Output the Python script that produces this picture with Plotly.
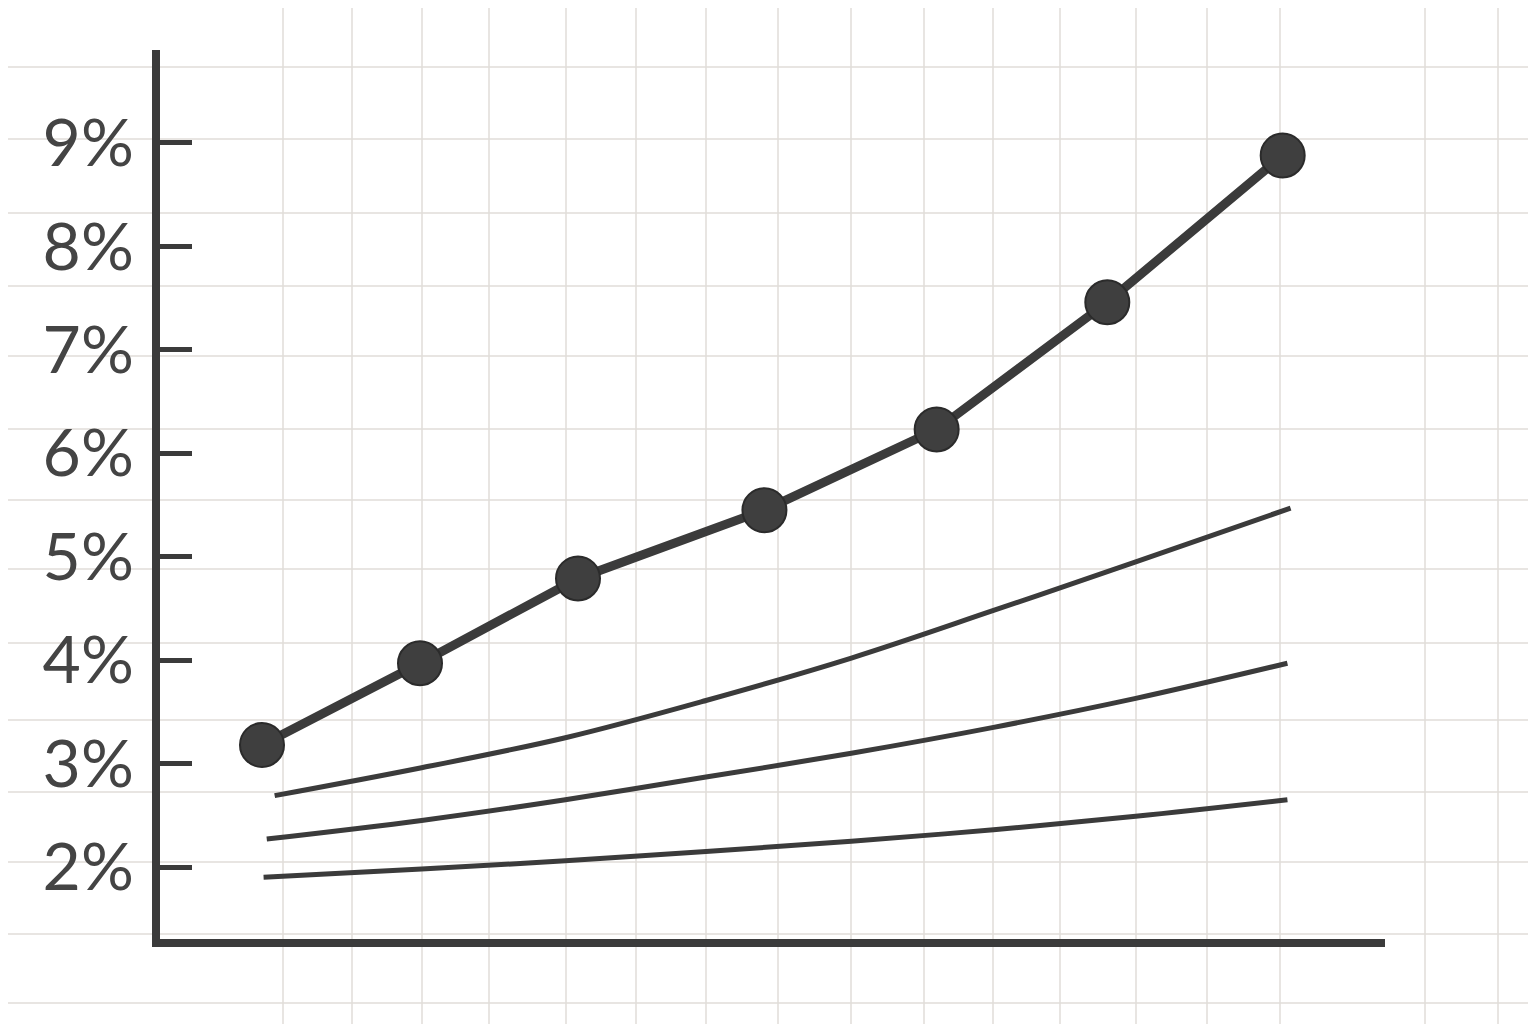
import plotly.graph_objects as go

# ---- data ----
y_tick_vals = [2, 3, 4, 5, 6, 7, 8, 9]
y_tick_text = ["2%", "3%", "4%", "5%", "6%", "7%", "8%", "9%"]

main_x = [0, 1, 2, 3.18, 4.27, 5.35, 6.46]
main_y = [3.18, 3.97, 4.79, 5.45, 6.23, 7.46, 8.88]

a_x = [0.08, 1.01, 1.92, 2.81, 3.73, 4.63, 5.53, 6.51]
a_y = [2.69, 2.96, 3.25, 3.61, 4.02, 4.48, 4.95, 5.47]

b_x = [0.03, 1.01, 1.92, 2.81, 3.73, 4.63, 5.53, 6.49]
b_y = [2.27, 2.45, 2.65, 2.87, 3.10, 3.35, 3.63, 3.97]

c_x = [0.01, 1.01, 1.92, 2.81, 3.73, 4.63, 5.53, 6.49]
c_y = [1.90, 1.98, 2.06, 2.15, 2.25, 2.36, 2.49, 2.65]

# ---- layout geometry (pixels, page has an 8px body margin) ----
OFF = 8
FIG_W, FIG_H = 1536 - OFF, 1024 - OFF
L, R, T, B = 160 - OFF, 1385 - OFF, 50 - OFF, 939 - OFF
PW, PH = R - L, B - T

# graph-paper grid (page pixel positions, decoration only)
grid_v_px = [283, 352, 422, 489, 566, 636, 706, 778, 851, 924, 993, 1060, 1136, 1207, 1280, 1425, 1498]
grid_h_px = [67, 139, 213, 286, 356, 429, 500, 569, 643, 720, 792, 862, 934, 1003]

INK = "#3b3b3b"
GRID = "#e0ddd8"

fig = go.Figure()

for xs, ys in [(c_x, c_y), (b_x, b_y), (a_x, a_y)]:
    fig.add_trace(go.Scatter(
        x=xs, y=ys, mode="lines",
        line=dict(color=INK, width=5, shape="spline", smoothing=1.0),
        showlegend=False, hoverinfo="skip",
    ))

fig.add_trace(go.Scatter(
    x=main_x, y=main_y, mode="lines+markers",
    line=dict(color=INK, width=9),
    marker=dict(size=44, color="#3f3f3f", line=dict(color="#2b2b2b", width=2)),
    showlegend=False,
))

shapes = []
for px in grid_v_px:
    xp = (px - OFF - L) / PW
    shapes.append(dict(type="line", xref="paper", yref="paper",
                       x0=xp, x1=xp, y0=(B - FIG_H) / PH, y1=B / PH,
                       line=dict(color=GRID, width=1.5), layer="below"))
for py in grid_h_px:
    yp = (B - (py - OFF)) / PH
    shapes.append(dict(type="line", xref="paper", yref="paper",
                       x0=-L / PW, x1=(FIG_W - L) / PW, y0=yp, y1=yp,
                       line=dict(color=GRID, width=1.5), layer="below"))

# axis ranges: marker x=0 -> page px 262, 1 unit = 158 px; 2% -> page px 867, 1% = 103.43 px
x_lo = (L + OFF - 262) / 158
x_hi = (R + OFF - 262) / 158
y_lo = 2 - (B + OFF - 867) / 103.43
y_hi = 2 + (867 - (T + OFF)) / 103.43

fig.update_layout(
    width=FIG_W, height=FIG_H,
    margin=dict(l=L, r=FIG_W - R, t=T, b=FIG_H - B),
    paper_bgcolor="white",
    plot_bgcolor="rgba(0,0,0,0)",
    shapes=shapes,
    xaxis=dict(range=[x_lo, x_hi], showgrid=False, zeroline=False,
               showticklabels=False, ticks="",
               showline=True, linecolor=INK, linewidth=8),
    yaxis=dict(range=[y_lo, y_hi], showgrid=False, zeroline=False,
               tickmode="array", tickvals=y_tick_vals, ticktext=y_tick_text,
               ticks="inside", ticklen=32, tickwidth=5, tickcolor=INK,
               showline=True, linecolor=INK, linewidth=8,
               ticklabelstandoff=5,
               tickfont=dict(family="Lato", size=66, color="#444444")),
)

fig.write_html("out.html")
